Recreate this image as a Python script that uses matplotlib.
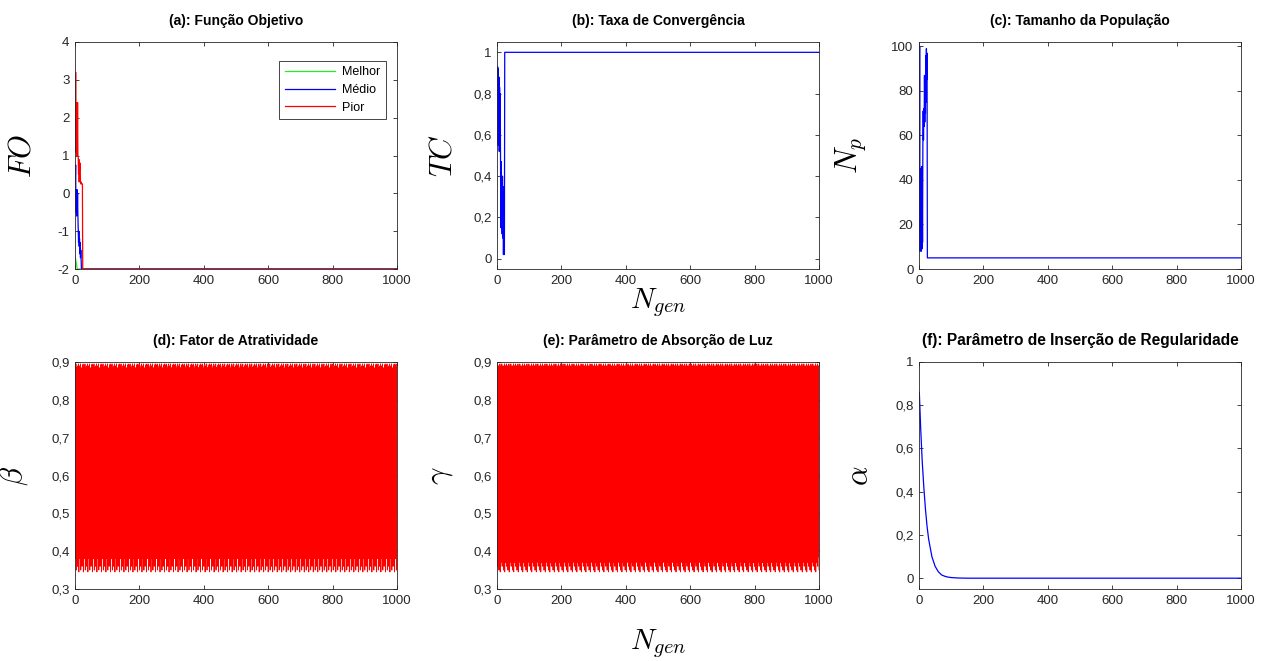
import numpy as np
import matplotlib.pyplot as plt
from matplotlib.ticker import FuncFormatter, MultipleLocator

plt.rcParams['font.family'] = 'Liberation Sans'
plt.rcParams['mathtext.fontset'] = 'cm'
plt.rcParams['axes.linewidth'] = 0.6

n_gen = 1000
gen = np.arange(1, n_gen + 1)

# (a) objective function: first generations, then flat at the optimum
fo_best_head = [-1.7, -1.75, -1.8, -1.85, -1.9, -1.95]
fo_mean_head = [0.3, 0.75, -0.5, 0.1, -0.6, 0.1, -0.5, 0.0, -0.6, -0.9, -1.3,
                -1.0, -1.4, -1.2, -1.6, -1.3, -1.7, -1.5, -1.8]
fo_worst_head = [1.1, 3.2, 1.1, 2.4, 1.0, 2.4, 1.2, 2.4, 1.0, 0.95, 0.5, 0.9,
                 0.3, 0.8, 0.6, 0.8, 0.3, 0.25, 0.3, 0.25, 0.25, 0.25, 0.25]
fo_final = -2.0

# (b) convergence rate
tc_head = [0.6, 0.93, 0.55, 0.92, 0.6, 0.88, 0.52, 0.83, 0.58, 0.8, 0.45, 0.15,
           0.47, 0.2, 0.38, 0.12, 0.4, 0.1, 0.35, 0.02, 0.3, 0.05, 0.02]
tc_final = 1.0

# (c) population size
np_head = [30, 100, 8, 45, 10, 40, 8, 46, 9, 38, 12, 55, 71, 58, 72, 64, 87,
           66, 85, 70, 96, 75, 99, 85, 97]
np_final = 5

# (d), (e) attractiveness / light absorption, repeating cycle
beta_cycle = [0.89, 0.38, 0.895, 0.35, 0.885, 0.39, 0.87, 0.36, 0.89, 0.37,
              0.895, 0.345, 0.88, 0.385]
gamma_cycle = [0.895, 0.36, 0.885, 0.385, 0.89, 0.35, 0.875, 0.39, 0.895,
               0.345, 0.88, 0.37, 0.89, 0.38]

# (f) regularity insertion parameter
alpha_gen = [1, 5, 10, 15, 20, 25, 30, 40, 50, 60, 70, 80, 90, 100, 120,
             150, 200, 1000]
alpha_val = [0.86, 0.70, 0.54, 0.42, 0.32, 0.24, 0.18, 0.10, 0.055, 0.03,
             0.015, 0.009, 0.005, 0.003, 0.001, 0.0, 0.0, 0.0]


def with_tail(head, final):
    s = np.full(n_gen, float(final))
    s[:len(head)] = head
    return s


def tiled(cycle):
    reps = n_gen // len(cycle) + 1
    return np.tile(cycle, reps)[:n_gen]


def comma(x, pos):
    return ('%g' % round(x, 6)).replace('.', ',')


fig = plt.figure(figsize=(12.7, 6.61), dpi=100)
lefts = [75, 497, 919]
w = 322 / 1270
row_bottoms = [1 - 269 / 661, 1 - 589 / 661]
h = 227 / 661
axs = [[fig.add_axes([l / 1270, b, w, h]) for l in lefts] for b in row_bottoms]

titles = ['(a): Função Objetivo', '(b): Taxa de Convergência',
          '(c): Tamanho da População', '(d): Fator de Atratividade',
          '(e): Parâmetro de Absorção de Luz',
          '(f): Parâmetro de Inserção de Regularidade']
title_size = [10, 10, 10, 10, 10, 11.2]
ylabels = ['$FO$', '$TC$', '$N_p$', r'$\beta$', r'$\gamma$', r'$\alpha$']
ylab_x = [-0.118, -0.121, -0.159, -0.14, -0.13, -0.137]

ax = axs[0][0]
ax.plot(gen, with_tail(fo_best_head, fo_final), color='#22ee22', lw=0.9, label='Melhor')
ax.plot(gen, with_tail(fo_mean_head, fo_final), color='#0000ff', lw=0.9, label='Médio')
ax.plot(gen, with_tail(fo_worst_head, fo_final), color='#ff0000', lw=0.9, label='Pior')
ax.set_ylim(-2, 4)
ax.yaxis.set_major_locator(MultipleLocator(1))
leg = ax.legend(loc='upper right', fontsize=9, fancybox=False, framealpha=1,
                edgecolor='#262626', handlelength=4, borderpad=0.45,
                labelspacing=0.45, handletextpad=0.6,
                bbox_to_anchor=(0.985, 0.945))
leg.get_frame().set_linewidth(0.6)

ax = axs[0][1]
ax.plot(gen, with_tail(tc_head, tc_final), color='#0000ff', lw=0.9)
ax.set_ylim(-0.05, 1.05)
ax.yaxis.set_major_locator(MultipleLocator(0.2))
ax.set_xlabel('$N_{gen}$', fontsize=21)
ax.xaxis.set_label_coords(0.5, -0.075)

ax = axs[0][2]
ax.plot(gen, with_tail(np_head, np_final), color='#0000ff', lw=0.9)
ax.set_ylim(0, 102)
ax.yaxis.set_major_locator(MultipleLocator(20))

ax = axs[1][0]
ax.plot(gen, tiled(beta_cycle), color='#ff0000', lw=0.6)
ax.set_ylim(0.3, 0.9)
ax.yaxis.set_major_locator(MultipleLocator(0.1))

ax = axs[1][1]
ax.plot(gen, tiled(gamma_cycle), color='#ff0000', lw=0.6)
ax.set_ylim(0.3, 0.9)
ax.yaxis.set_major_locator(MultipleLocator(0.1))
ax.set_xlabel('$N_{gen}$', fontsize=21)
ax.xaxis.set_label_coords(0.5, -0.17)

ax = axs[1][2]
ax.plot(alpha_gen, alpha_val, color='#0000ff', lw=0.9)
ax.set_ylim(-0.05, 1)
ax.yaxis.set_major_locator(MultipleLocator(0.2))

for i, ax in enumerate([a for row in axs for a in row]):
    ax.set_xlim(0, 1000)
    ax.xaxis.set_major_locator(MultipleLocator(200))
    ax.yaxis.set_major_formatter(FuncFormatter(comma))
    ax.tick_params(direction='in', top=True, right=True, length=3,
                   width=0.6, labelsize=9.5, colors='#262626', pad=4)
    for s in ax.spines.values():
        s.set_color('#262626')
    ax.set_title(titles[i], fontsize=title_size[i], fontweight='bold', pad=12)
    ax.set_ylabel(ylabels[i], fontsize=22)
    ax.yaxis.set_label_coords(ylab_x[i], 0.5)

fig.savefig('out.png', dpi=100)
